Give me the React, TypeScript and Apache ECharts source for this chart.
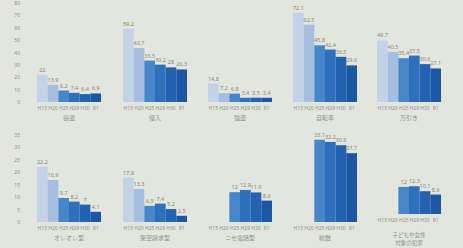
import React, { useEffect, useRef } from "react";
import * as echarts from "echarts";

const periods = ["H15", "H20", "H25", "H29", "H30", "R1"];
const topNames = ["窃盗", "侵入", "強盗", "自転車", "万引き"];
const bottomNames = ["オレオレ型", "架空請求型", "ニセ電話型", "総数", "子どもや女性\n対象の犯罪"];

const top1 = [22, 13.9, 9.2, 7.4, 6.4, 6.9];
const top2 = [59.2, 43.7, 33.5, 30.2, 28, 26.3];
const top3 = [14.8, 7.2, 6.8, 3.4, 3.5, 3.4];
const top4 = [72.1, 62.5, 45.8, 42.4, 36.5, 29.6];
const top5 = [49.7, 40.5, 35.4, 37.5, 30.6, 27.1];

const bot1 = [22.2, 16.9, 9.7, 8.2, 7, 4.1];
const bot2 = [17.9, 13.3, 6.5, 7.4, 5.2, 2.5];
const bot3 = [null, null, 12, 12.9, 11.9, 8.6];
const bot4 = [null, null, 33.1, 32.2, 30.9, 27.7];
const bot5 = [null, null, 12.0, 12.3, 10.1, 8.6];

const topTicks = [0, 10, 20, 30, 40, 50, 60, 70, 80];
const bottomTicks = [0, 5, 10, 15, 20, 25, 30, 35];

const barColors = ["#c3d2e6", "#a6bedf", "#4686c9", "#2e70bc", "#2262b1", "#1b57a5"];

export default function App() {
  const ref = useRef<HTMLDivElement>(null);
  useEffect(() => {
    if (!ref.current) return;
    const chart = echarts.init(ref.current, null, { renderer: "svg" });
    const lefts = [37, 123, 208, 293, 377];
    const rows = [
      { data: [top1, top2, top3, top4, top5], names: topNames, ticks: topTicks, top: 3, height: 99 },
      { data: [bot1, bot2, bot3, bot4, bot5], names: bottomNames, ticks: bottomTicks, top: 135, height: 87 },
    ];
    const grid: any[] = [];
    const xAxis: any[] = [];
    const yAxis: any[] = [];
    const series: any[] = [];
    rows.forEach((row, r) => {
      const max = row.ticks[row.ticks.length - 1];
      const interval = row.ticks[1] - row.ticks[0];
      row.data.forEach((vals, g) => {
        const idx = grid.length;
        const twoLine = r === 1 && g === 4;
        grid.push({ left: lefts[g], width: 64, top: row.top, height: row.height });
        xAxis.push({
          type: "category",
          gridIndex: idx,
          data: periods,
          axisLine: { show: false },
          axisTick: { show: false },
          axisLabel: { fontSize: 5, color: "#8d918c", margin: 3, interval: 0, fontFamily: "Noto Sans" },
          name: row.names[g],
          nameLocation: "middle",
          nameGap: twoLine ? 17 : 12,
          nameTextStyle: {
            fontSize: twoLine ? 5.5 : 6,
            color: "#8d918c",
            fontFamily: "Noto Sans CJK JP",
            lineHeight: twoLine ? 8 : 7,
          },
        });
        yAxis.push({
          type: "value",
          gridIndex: idx,
          min: 0,
          max,
          interval,
          splitLine: { show: false },
          axisLine: { show: false },
          axisTick: { show: false },
          axisLabel: {
            show: g === 0,
            fontSize: 5,
            color: "#8d918c",
            margin: 17,
            fontFamily: "Noto Sans",
          },
        });
        series.push({
          type: "bar",
          xAxisIndex: idx,
          yAxisIndex: idx,
          barWidth: "100%",
          data: vals.map((v, i) => ({ value: v, itemStyle: { color: barColors[i] } })),
          label: {
            show: true,
            position: "top",
            distance: 2,
            fontSize: 5.5,
            color: "#8a8672",
            fontFamily: "Noto Sans",
            formatter: (p: any) => (p.value == null ? "" : String(p.value)),
          },
        });
      });
    });
    chart.setOption({
      animation: false,
      backgroundColor: "#e3e6de",
      grid,
      xAxis,
      yAxis,
      series,
    });
    return () => chart.dispose();
  }, []);
  return (
    <div
      ref={ref}
      style={{ position: "absolute", left: 0, top: 0, width: 463, height: 248 }}
    />
  );
}
